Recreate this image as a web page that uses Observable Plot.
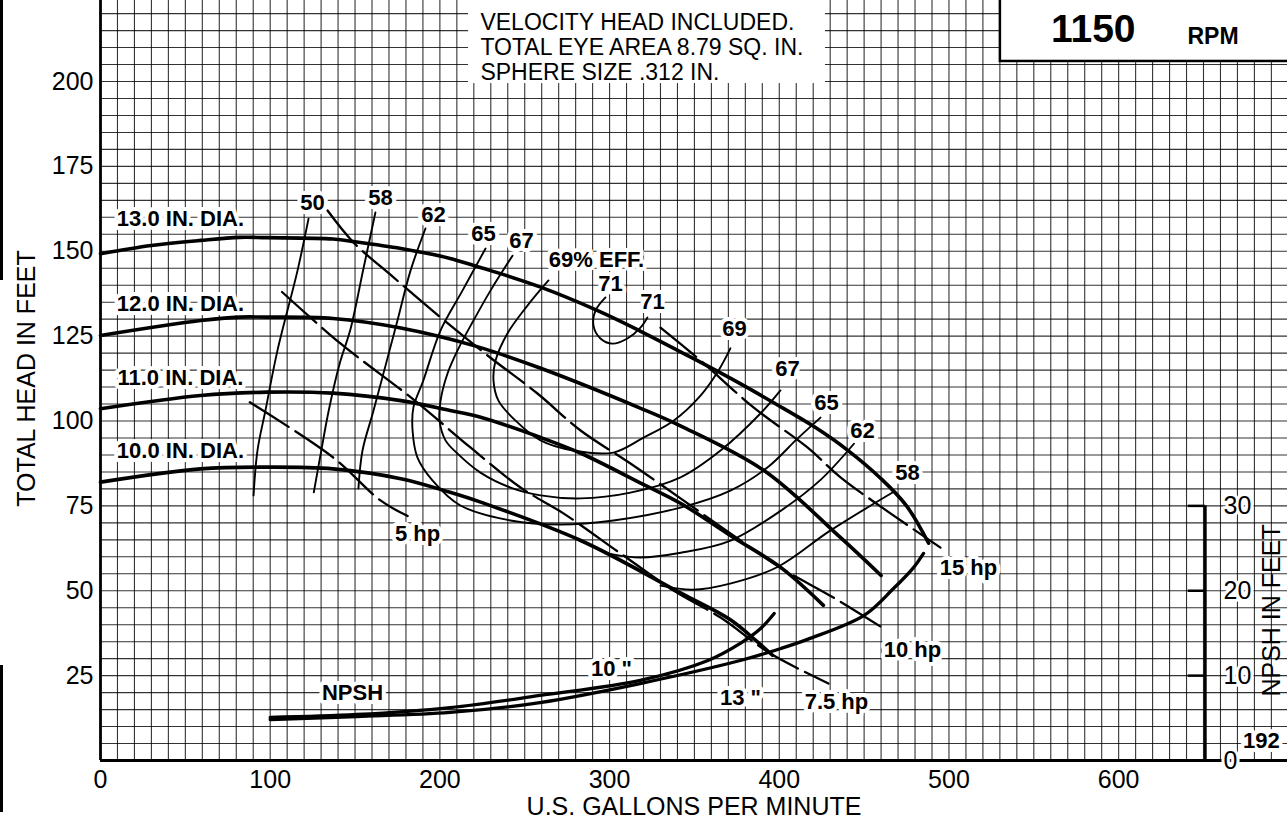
<!DOCTYPE html>
<html><head><meta charset="utf-8">
<script src="https://cdn.jsdelivr.net/npm/d3@7"></script>
<script src="https://cdn.jsdelivr.net/npm/@observablehq/plot@0.6"></script>
<style>
html,body{margin:0;padding:0;background:#fff;}
#chart{position:relative;width:1287px;height:821px;overflow:hidden;}
#chart svg{overflow:hidden;}
.edge{position:absolute;left:0;width:3px;background:#000;}
</style></head><body>
<div id="chart"></div>
<script>
// ---------- axis ticks ----------
const xTicks = [0, 100, 200, 300, 400, 500, 600];
const yTicks = [25, 50, 75, 100, 125, 150, 175, 200];
const npshTicks = [0, 10, 20, 30];

// ---------- head-capacity curves [gpm, ft] ----------
const head13 = [[0,149.3],[30,151.7],[59,153.2],[82,154.1],[98,154],[137,153.6],[151,152.7],[177,150.8],[189,149.7],[206,147.9],[220,145.8],[230,144.3],[259,139.5],[293,132.5],[318,126.5],[349,118.5],[377,111],[397,105.3],[420,98.5],[440,91.5],[460,83],[475,75],[488,64]];
const head12 = [[0,125.2],[59,129.6],[82,130.6],[98,130.6],[137,130.2],[177,127.4],[220,122.2],[259,115.6],[318,103.8],[342,98.5],[391,85.4],[436,65.7],[460,54.5]];
const head11 = [[0,103.6],[59,107.5],[98,108.5],[137,108.2],[177,106.0],[206,103.1],[224,101.1],[259,95.2],[283,90.5],[318,81.8],[342,75.7],[373,65.7],[401,56.8],[426,45.7]];
const head10 = [[0,82.0],[59,85.9],[98,86.4],[137,85.9],[177,83.0],[206,79.0],[224,76.1],[283,64.8],[342,49.3],[371,41.5],[387,35],[396,31]];

// ---------- horsepower lines [gpm, ft] ----------
const hp5  = [[88,105.5],[137,89.3],[165,76.6],[181,72]];
const hp75 = [[107,138],[141,123],[184,106.5],[218,92.2],[247.5,80.4],[272.8,72.8],[306.4,61.0],[337.7,50.1],[365.4,42.1],[394.8,31.5],[429,22.7]];
const hp10 = [[133.8,162.0],[149.1,152.6],[172.7,142.3],[200.4,130.5],[228.1,119.3],[257.5,108.1],[282.9,97.2],[312.3,87.5],[341.8,77.2],[371.2,66.9],[400.7,56.8],[431.9,48.0],[461.4,38.9]];
const hp15 = [[330,127.5],[353.6,117.8],[384.8,104],[416.6,92.2],[436.1,83.4],[465.5,72.8],[495,62.7]];

// ---------- efficiency curves [gpm, ft] ----------
const eff50  = [[122.6,159.6],[116.1,144.3],[104.3,120.8],[97.2,103.1],[92.5,91.3],[90.2,78.1]];
const eff58L = [[162,161.4],[155,145],[147.3,127],[141,117],[134.5,103.1],[130,91],[125.7,79]];
const eff62L = [[191.5,156.7],[182.7,144.3],[175,129.6],[160.9,103.1],[154.4,91.3],[152,80.1]];
const eff65  = [[226.9,150.8],[213.3,138.4],[200.4,126.7],[190.3,112.0],[184.4,104.0],[183.9,97.2],[186.8,89.2],[195.6,82.5],[212.1,75.1],[241.6,70.7],[271.1,69.5],[302.3,70.7],[341.8,74.5],[371.2,79.5],[393,86.3],[410.7,94.8],[424.3,101]];
const eff67  = [[242.8,148.7],[229.8,138.4],[219.8,129.6],[211,121.4],[204.5,114],[200.4,106],[199.8,100.1],[203.3,94.3],[210.4,90.4],[223.9,84.8],[241.6,80.4],[259.3,78.1],[282.9,77.2],[312.3,78.9],[341.8,83.4],[365.4,91.3],[388.9,102.2],[400.7,109]];
const eff69  = [[264,141.4],[251.6,134],[239.8,125.8],[232.8,117.8],[231.6,111.9],[234.5,106],[244.6,100.1],[259.3,94.3],[278.7,91.3],[302.3,90.7],[320,95.1],[337.7,100.1],[353.6,107.5],[364.2,114.9],[371.2,121.4]];
const eff71  = [[297.6,136.4],[291.7,132.5],[290.5,128.1],[294.6,124.3],[301.7,122.8],[310.5,124.3],[318.2,127.5],[322.3,130.5]];
const eff62R = [[301,60.8],[318,59.8],[342,61.2],[371,64.7],[401,73.6],[424,82.5],[444,93.3]];
const eff58R = [[330,51.5],[349,50.3],[371,52.1],[399,57],[430,67.7],[467,79]];

// ---------- NPSH curves [gpm, NPSH ft] ----------
const npsh10 = [[100,5.07],[151,5.42],[206,6.24],[259,7.66],[318,9.43],[358,11.78],[377,13.79],[389,15.55],[397,17.32]];
const npsh13 = [[100,4.83],[151,5.18],[206,5.66],[259,6.83],[318,9.07],[377,11.78],[401,13.2],[417,14.3],[450,17.1],[467,20.2],[479,22.7],[485,24.4]];

// ---------- labels ----------
const diaLabels = [
  {t:"13.0 IN. DIA.", gpm:47.1, ft:159.4},
  {t:"12.0 IN. DIA.", gpm:47.1, ft:134.5},
  {t:"11.0 IN. DIA.", gpm:47.1, ft:112.7},
  {t:"10.0 IN. DIA.", gpm:47.1, ft:91.1}
];
const effLabels = [
  {t:"50", gpm:124.9, ft:164.1}, {t:"58", gpm:165.0, ft:165.8}, {t:"62", gpm:196.2, ft:160.8},
  {t:"65", gpm:225.7, ft:155.2}, {t:"67", gpm:248.1, ft:152.9}, {t:"69% EFF.", gpm:292.3, ft:147.3},
  {t:"71", gpm:300.5, ft:140.5}, {t:"71", gpm:325.3, ft:135.2}, {t:"69", gpm:373.6, ft:127.2},
  {t:"67", gpm:404.8, ft:115.2}, {t:"65", gpm:427.8, ft:105.4}, {t:"62", gpm:449.0, ft:97.2},
  {t:"58", gpm:475.5, ft:84.8}
];
const hpLabels = [
  {t:"5 hp", gpm:186.8, ft:66.6}, {t:"15 hp", gpm:511.5, ft:56.8},
  {t:"10 hp", gpm:478.5, ft:32.7}, {t:"7.5 hp", gpm:433.7, ft:17.1}
];
const npshLabels = [
  {t:'10 "', gpm:301.1, ft:27.1}, {t:'13 "', gpm:377.1, ft:18.3},
  {t:"NPSH", gpm:148.5, ft:20.0}, {t:"192", gpm:684.1, ft:5.9}
];
const infoText = ["VELOCITY HEAD INCLUDED.", "TOTAL EYE AREA 8.79 SQ. IN.", "SPHERE SIZE .312 IN."];
const rpmValue = "1150", rpmUnit = "RPM";

// ---------- build tables ----------
const rows = (sets) => sets.flatMap(([name, pts]) => pts.map(([gpm, v]) => ({name, gpm, v})));
const headRows = rows([["13",head13],["12",head12],["11",head11],["10",head10]]);
const hpRows   = rows([["5",hp5],["7.5",hp75],["10",hp10],["15",hp15]]);
const effRows  = rows([["50",eff50],["58L",eff58L],["62L",eff62L],["65",eff65],["67",eff67],["69",eff69],["71",eff71],["62R",eff62R],["58R",eff58R]]);
const npshRows = rows([["10",npsh10],["13",npsh13]]);
const NPSH_TO_HEAD = 2.5; // right axis: 10 ft NPSH == 25 ft head

const font = "Liberation Sans, Arial, Helvetica, sans-serif";
const halo = {stroke:"white", strokeWidth:8, paintOrder:"stroke", strokeLinejoin:"round", fill:"black"};
const xMax = 699.5, yMax = 223.86;

const chart = Plot.plot({
  width: 1287, height: 821,
  marginLeft: 100, marginRight: 0, marginTop: 0, marginBottom: 61,
  style: {fontFamily: font, background: "white", color: "black"},
  x: {domain: [0, xMax]},
  y: {domain: [0, yMax]},
  marks: [
    // graph paper grid
    Plot.ruleX(d3.range(10, 691, 10), {y1: 0, y2: yMax, stroke: "#000", strokeOpacity: 0.8, strokeWidth: 1.1}),
    Plot.ruleY(d3.range(5, 224, 5), {x1: 0, x2: xMax, stroke: "#000", strokeOpacity: 0.8, strokeWidth: 1.1}),
    // info box and RPM box
    Plot.rect([0], {x1: () => 216.9, x2: () => 427.2, y1: () => 199.4, y2: () => 240, fill: "white"}),
    Plot.rect([0], {x1: () => 530.3, x2: () => 760, y1: () => 205.9, y2: () => 240, fill: "white", stroke: "black", strokeWidth: 2.5}),
    Plot.text([infoText.join("\n")], {x: () => 223.9, y: () => 220.4, textAnchor: "start", lineAnchor: "top", lineHeight: 1.09, fontSize: 23}),
    Plot.text([rpmValue], {x: () => 585, y: () => 215.2, fontSize: 39, fontWeight: "bold"}),
    Plot.text([rpmUnit], {x: () => 655.6, y: () => 213.3, fontSize: 23, fontWeight: "bold"}),
    // curves
    Plot.line(effRows, {x: "gpm", y: "v", z: "name", curve: "catmull-rom", stroke: "black", strokeWidth: 1.9}),
    Plot.line(hpRows, {x: "gpm", y: "v", z: "name", curve: "catmull-rom", stroke: "black", strokeWidth: 2.3, strokeDasharray: "46,8"}),
    Plot.line(headRows, {x: "gpm", y: "v", z: "name", curve: "catmull-rom", stroke: "black", strokeWidth: 3.6}),
    Plot.line(npshRows, {x: "gpm", y: d => d.v * NPSH_TO_HEAD, z: "name", curve: "catmull-rom", stroke: "black", strokeWidth: 3.3}),
    // labels
    Plot.text(diaLabels, {x: "gpm", y: "ft", text: "t", fontSize: 22, fontWeight: "bold", ...halo}),
    Plot.text(effLabels, {x: "gpm", y: "ft", text: "t", fontSize: 22, fontWeight: "bold", ...halo}),
    Plot.text(hpLabels, {x: "gpm", y: "ft", text: "t", fontSize: 22, fontWeight: "bold", ...halo}),
    Plot.text(npshLabels, {x: "gpm", y: "ft", text: "t", fontSize: 22, fontWeight: "bold", ...halo}),
    // frame
    Plot.ruleX([0], {stroke: "black", strokeWidth: 2.8}),
    Plot.ruleY([0], {stroke: "black", strokeWidth: 2.8}),
    // main axes
    Plot.axisX(xTicks, {tickSize: 0, tickPadding: 10, fontSize: 25, label: null}),
    Plot.axisY(yTicks, {tickSize: 0, tickPadding: 7, fontSize: 25, label: null}),
    Plot.text(["TOTAL HEAD IN FEET"], {frameAnchor: "left", dx: -74, dy: -2, rotate: -90, textAnchor: "middle", lineAnchor: "middle", fontSize: 25}),
    Plot.text(["U.S. GALLONS PER MINUTE"], {frameAnchor: "bottom", dy: 46, textAnchor: "middle", lineAnchor: "middle", fontSize: 25}),
    // NPSH axis (right)
    Plot.ruleX([651], {y1: 0, y2: 30 * NPSH_TO_HEAD, stroke: "black", strokeWidth: 3}),
    Plot.ruleY(npshTicks.filter(d => d > 0), {y: d => d * NPSH_TO_HEAD, x1: 641, x2: 651, stroke: "black", strokeWidth: 2.5}),
    Plot.text(npshTicks, {x: () => 661.8, y: d => d * NPSH_TO_HEAD, text: d => String(d), textAnchor: "start", fontSize: 25, ...halo, strokeWidth: 6}),
    Plot.text(["NPSH IN FEET"], {x: () => 690.6, y: () => 44.2, rotate: -90, textAnchor: "middle", lineAnchor: "middle", fontSize: 25})
  ]
});
const host = document.getElementById("chart");
host.appendChild(chart);
for (const [top, h] of [[0, 280], [665, 147]]) {
  const e = document.createElement("div");
  e.className = "edge"; e.style.top = top + "px"; e.style.height = h + "px";
  host.appendChild(e);
}
</script>
</body></html>
